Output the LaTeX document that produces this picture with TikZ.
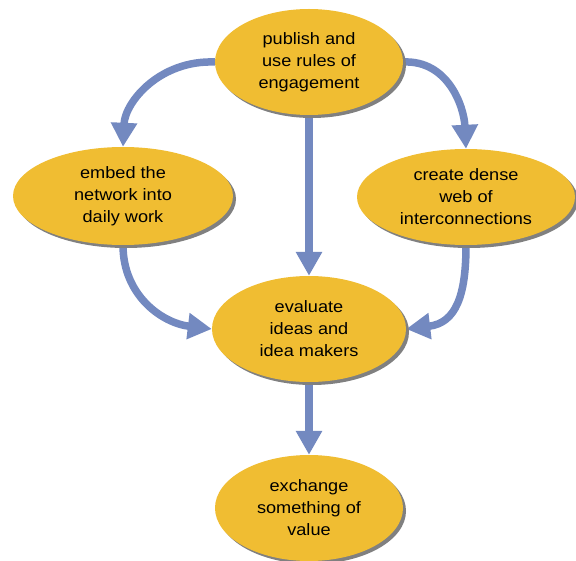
\documentclass[tikz,border=0pt]{standalone}
\usepackage{fontspec}
\setmainfont{Liberation Sans}[FakeStretch=1.1]
\usetikzlibrary{shapes.geometric,arrows.meta,shadows,backgrounds}
\definecolor{boxfill}{RGB}{240,189,50}
\definecolor{arrowblue}{RGB}{115,137,192}
\definecolor{shadowgray}{RGB}{128,128,128}
\begin{document}
\begin{tikzpicture}[x=1pt,y=-1pt,
  blob/.style={ellipse, fill=boxfill, inner sep=0pt, align=center,
    font=\fontsize{16.5}{22}\selectfont,
    drop shadow={shadow xshift=3pt, shadow yshift=-3pt, fill=shadowgray, opacity=1}},
  arr/.style={draw=arrowblue, line width=7.5pt,
    -{Triangle[width=25pt,length=24pt]}, arrowblue}]
\useasboundingbox (0,0) rectangle (576,561);
\node[blob, minimum width=188pt, minimum height=106pt] (top) at (309,62) {publish and\\use rules of\\engagement};
\node[blob, minimum width=220pt, minimum height=98pt] (left) at (123,196) {embed the\\network into\\daily work};
\node[blob, minimum width=218pt, minimum height=96pt] (right) at (466,197) {create dense\\web of\\interconnections};
\node[blob, minimum width=194pt, minimum height=106pt] (mid) at (309,329) {evaluate\\ideas and\\idea makers};
\node[blob, minimum width=188pt, minimum height=106pt] (bot) at (309,508) {exchange\\something of\\value};
\begin{pgfonlayer}{background}
\draw[arr] (top.west) .. controls +(-55,-2) and +(2,-45) .. (left.north);
\draw[arr] (top.east) .. controls +(45,-2) and +(-2,-42) .. (right.north);
\draw[arr] (top.south) -- (mid.north);
\draw[arr] (left.south) .. controls +(0,50) and +(-50,-6) .. (mid.west);
\draw[arr] (right.south) .. controls +(0,50) and +(50,-6) .. (mid.east);
\draw[arr] (mid.south) -- (bot.north);
\end{pgfonlayer}
\end{tikzpicture}
\end{document}
